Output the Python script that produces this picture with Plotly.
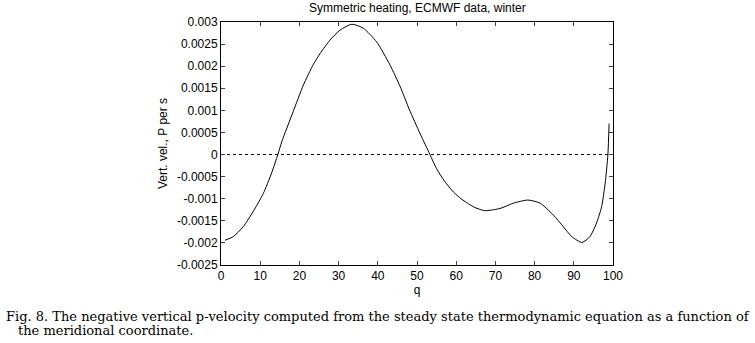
import plotly.graph_objects as go

# Data
q = [1, 3.1, 5.7, 8.2, 10.8, 12.9, 14.5, 15.5, 18.4, 21, 23.5, 25.3, 27.8, 30.4, 33.4,
     36.3, 39.7, 43.1, 45.7, 48, 50.8, 53.3, 55, 57, 59, 60.8, 62.7, 64.8, 67.3, 71.2,
     74.6, 78.3, 81.4, 84.8, 87.3, 89.5, 92.1, 94.1, 95.8, 97.1, 98, 98.7, 99]
w = [-0.00194, -0.00186, -0.00163, -0.00129, -0.00088, -0.00042, 0.0, 0.00029, 0.00097,
     0.00157, 0.00203, 0.00229, 0.00259, 0.00282, 0.00295, 0.00286, 0.00255, 0.00203,
     0.00154, 0.00103, 0.00047, 0.0, -0.00032, -0.0006, -0.00082, -0.00097, -0.00109,
     -0.0012, -0.00127, -0.00122, -0.0011, -0.00103, -0.0011, -0.00137, -0.00163,
     -0.00186, -0.00199, -0.00186, -0.00155, -0.00118, -0.00065, 0.0, 0.0007]

y_ticks = [0.003, 0.0025, 0.002, 0.0015, 0.001, 0.0005, 0, -0.0005, -0.001, -0.0015, -0.002, -0.0025]
y_labels = ["0.003", "0.0025", "0.002", "0.0015", "0.001", "0.0005", "0",
            "-0.0005", "-0.001", "-0.0015", "-0.002", "-0.0025"]
x_ticks = [0, 10, 20, 30, 40, 50, 60, 70, 80, 90, 100]

title = "Symmetric heating, ECMWF data, winter"
caption1 = "Fig. 8. The negative vertical p-velocity computed from the steady state thermodynamic equation as a function of"
caption2 = "the meridional coordinate."

L, R, T, B = 221, 142, 22, 78
W, H = 755, 343
plot_h = H - T - B
plot_w = W - L - R

def px_to_paper_x(px):
    return (px - L) / plot_w

def px_to_paper_y(py):
    return (H - B - py) / plot_h

fig = go.Figure()
fig.add_trace(go.Scatter(x=[0, 100], y=[0, 0], mode="lines",
                         line=dict(color="black", width=1, dash="dot"),
                         hoverinfo="skip", showlegend=False))
fig.add_trace(go.Scatter(x=q, y=w, mode="lines",
                         line=dict(color="black", width=1, shape="spline", smoothing=0.6),
                         showlegend=False))

axfont = dict(family="Liberation Sans, Arial, sans-serif", size=12, color="black")
capfont = dict(family="DejaVu Serif, serif", size=13, color="black")

fig.update_layout(
    width=W, height=H,
    margin=dict(l=L, r=R, t=T, b=B),
    paper_bgcolor="white", plot_bgcolor="white",
    font=axfont,
    xaxis=dict(range=[0, 100], tickvals=x_ticks, ticks="inside", ticklen=4,
               showgrid=False, zeroline=False, showline=True, linecolor="black",
               linewidth=1, mirror="ticks", tickfont=axfont,
               title=dict(text="q", font=axfont, standoff=2)),
    yaxis=dict(range=[-0.0025, 0.003], tickvals=y_ticks, ticktext=y_labels,
               ticks="inside", ticklen=4, showgrid=False, zeroline=False,
               showline=True, linecolor="black", linewidth=1, mirror="ticks",
               tickfont=axfont,
               title=dict(text="Vert. vel., P per s", font=axfont, standoff=6)),
    annotations=[
        dict(text=title, x=0.5, y=px_to_paper_y(8), xref="paper", yref="paper",
             xanchor="center", yanchor="middle", showarrow=False, font=axfont),
        dict(text=caption1, x=px_to_paper_x(4), y=px_to_paper_y(316), xref="paper",
             yref="paper", xanchor="left", yanchor="middle", showarrow=False, font=capfont),
        dict(text=caption2, x=px_to_paper_x(16), y=px_to_paper_y(331), xref="paper",
             yref="paper", xanchor="left", yanchor="middle", showarrow=False, font=capfont),
    ],
)

fig.write_html("out.html", config={"displayModeBar": False},
               post_script="document.body.style.margin='0';")
